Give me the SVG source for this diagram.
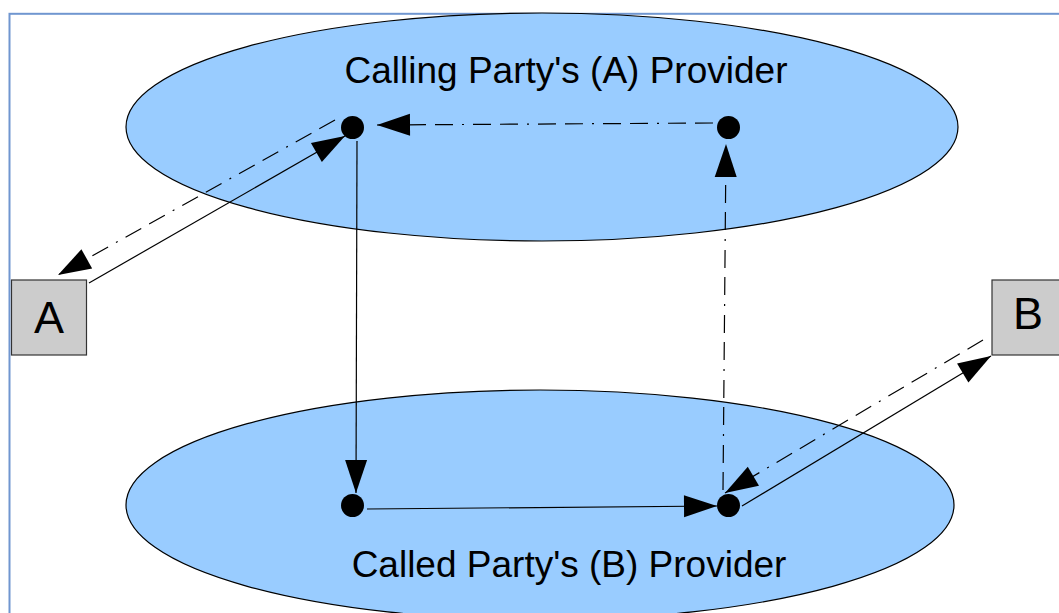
<svg xmlns="http://www.w3.org/2000/svg" width="1059" height="613" viewBox="0 0 1059 613">
  <style>
    .provider { fill: #99ccff; stroke: #000; stroke-width: 1.2; }
    .party rect { fill: #cccccc; stroke: #333; stroke-width: 1.2; }
    .party text { font-family: "Liberation Sans", Arial, sans-serif; font-size: 45px; fill: #000; text-anchor: middle; }
    .label { font-family: "Liberation Sans", Arial, sans-serif; font-size: 37px; fill: #000; text-anchor: middle; }
    .dot { fill: #000; }
    .conn { fill: none; stroke: #000; stroke-width: 1.2; marker-end: url(#head); }
    .dashdot { stroke-dasharray: 18 9 18 9 2 9; }
  </style>
  <defs>
    <marker id="head" markerUnits="userSpaceOnUse" markerWidth="34" markerHeight="22" refX="33" refY="11" orient="auto" overflow="visible">
      <path d="M0,0 L33,11 L0,22 Z" fill="#000"/>
    </marker>
  </defs>

  <rect x="0" y="0" width="1059" height="613" fill="#fff"/>
  <!-- page frame -->
  <rect x="9.5" y="13.8" width="1100" height="700" fill="none" stroke="#7096d0" stroke-width="2"/>

  <g id="provider-a">
    <ellipse class="provider" cx="542" cy="127" rx="416" ry="114"/>
    <text class="label" x="566" y="83">Calling Party's (A) Provider</text>
  </g>

  <g id="provider-b">
    <ellipse class="provider" cx="540" cy="505" rx="414" ry="115"/>
    <text class="label" x="569" y="577">Called Party's (B) Provider</text>
  </g>

  <g id="party-a" class="party">
    <rect x="11.5" y="280" width="75" height="75"/>
    <text x="49" y="333">A</text>
  </g>

  <g id="party-b" class="party">
    <rect x="992" y="280" width="75" height="75"/>
    <text x="1028" y="329">B</text>
  </g>

  <g id="node-a-in"><circle class="dot" cx="352.5" cy="127.5" r="11.5"/></g>
  <g id="node-a-out"><circle class="dot" cx="728.5" cy="127.5" r="11.5"/></g>
  <g id="node-b-in"><circle class="dot" cx="352.5" cy="505.5" r="11.5"/></g>
  <g id="node-b-out"><circle class="dot" cx="728.5" cy="505.5" r="11.5"/></g>

  <g id="connectors">
    <line class="conn" x1="89" y1="283" x2="345" y2="136"/>
    <line class="conn dashdot" x1="335" y1="120" x2="58" y2="275"/>
    <line class="conn" x1="357" y1="141" x2="356" y2="493"/>
    <line class="conn" x1="367" y1="509" x2="717" y2="506"/>
    <line class="conn" x1="742" y1="506" x2="991" y2="356"/>
    <line class="conn dashdot" x1="983" y1="340" x2="725" y2="493"/>
    <line class="conn dashdot" x1="723" y1="490" x2="726" y2="144"/>
    <line class="conn dashdot" x1="713" y1="123" x2="377" y2="125"/>
  </g>
</svg>
